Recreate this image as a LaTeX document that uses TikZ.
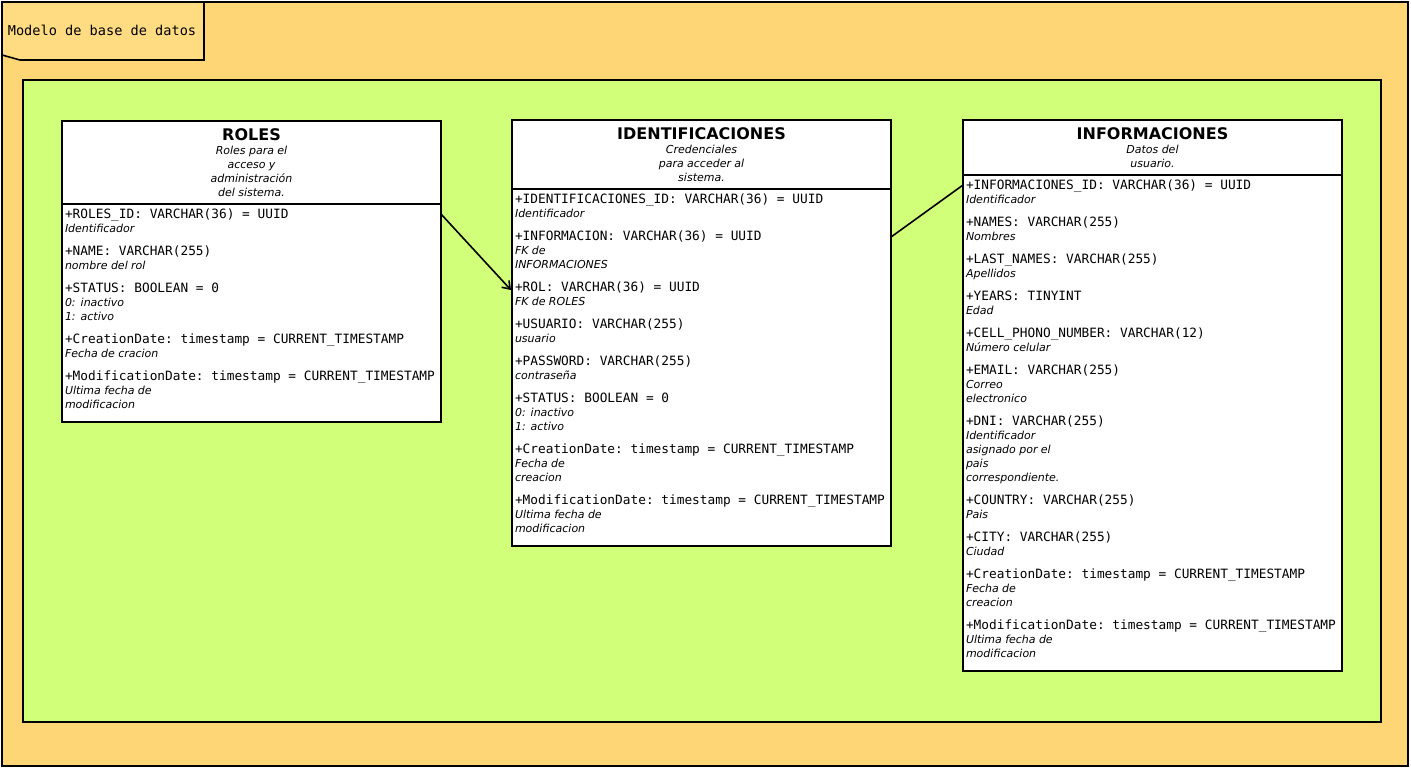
\documentclass[tikz,border=0pt]{standalone}
\usepackage{fontspec}
\setmainfont{DejaVu Sans}
\setmonofont{DejaVu Sans Mono}
\usetikzlibrary{arrows.meta,positioning,calc}

\definecolor{pkgorange}{RGB}{255,214,117}
\definecolor{tabfill}{RGB}{255,220,130}
\definecolor{pkggreen}{RGB}{209,255,122}

\setlength{\parindent}{0pt}
\setlength{\parskip}{0pt}

\newcommand{\fld}[2]{{\fontsize{12.8}{15}\ttfamily\spaceskip=0pt\xspaceskip=0pt #1\par}{\fontsize{11}{14}\itshape #2\par}\vspace{8pt}}
\newcommand{\hdr}[2]{{\fontsize{16}{18}\bfseries #1\par}{\fontsize{11}{14}\itshape #2\par}}

\begin{document}
\begin{tikzpicture}
[x=1pt, y=-1pt, line width=1.6pt, >={Straight Barb[length=7pt,width=10pt]},
head/.style={rectangle, draw, fill=white, anchor=north west, outer sep=0pt, text width=365pt, inner xsep=7pt, inner ysep=7.5pt, align=center},
body/.style={rectangle, draw, fill=white, outer sep=0pt, text width=373pt, inner xsep=3pt, inner ysep=5pt, align=left},
link/.style={draw, line width=1.6pt}]

\useasboundingbox (0,0) rectangle (1411,768);

% package frame
\draw[fill=pkgorange] (2,2) rectangle (1408,766);
\draw[fill=tabfill] (2,2) -- (204,2) -- (204,60) -- (20,60) -- (2,55) -- cycle;
\node[font=\fontsize{13.6}{16}\ttfamily] (pkgname) at (102,30) {Modelo de base de datos};
\draw[fill=pkggreen] (23,80) rectangle (1381,722);

% ROLES
\node[head] (rolesHead) at (62,121) {\hdr{ROLES}{Roles para el\\acceso y\\administración\\del sistema.}};
\node[body, below=0pt of rolesHead] (rolesBody) {%
\fld{+ROLES\_ID: VARCHAR(36) = UUID}{Identificador}
\fld{+NAME: VARCHAR(255)}{nombre del rol}
\fld{+STATUS: BOOLEAN = 0}{0: inactivo\\1: activo}
\fld{+CreationDate: timestamp = CURRENT\_TIMESTAMP}{Fecha de cracion}
\fld{+ModificationDate: timestamp = CURRENT\_TIMESTAMP}{Ultima fecha de\\modificacion}
\vspace{1pt}};

% IDENTIFICACIONES
\node[head] (identHead) at (512,120) {\hdr{IDENTIFICACIONES}{Credenciales\\para acceder al\\sistema.}};
\node[body, below=0pt of identHead] (identBody) {%
\fld{+IDENTIFICACIONES\_ID: VARCHAR(36) = UUID}{Identificador}
\fld{+INFORMACION: VARCHAR(36) = UUID}{FK de\\INFORMACIONES}
\fld{+ROL: VARCHAR(36) = UUID}{FK de ROLES}
\fld{+USUARIO: VARCHAR(255)}{usuario}
\fld{+PASSWORD: VARCHAR(255)}{contraseña}
\fld{+STATUS: BOOLEAN = 0}{0: inactivo\\1: activo}
\fld{+CreationDate: timestamp = CURRENT\_TIMESTAMP}{Fecha de\\creacion}
\fld{+ModificationDate: timestamp = CURRENT\_TIMESTAMP}{Ultima fecha de\\modificacion}
\vspace{1pt}};

% INFORMACIONES
\node[head] (infoHead) at (963,120) {\hdr{INFORMACIONES}{Datos del\\usuario.}};
\node[body, below=0pt of infoHead] (infoBody) {%
\fld{+INFORMACIONES\_ID: VARCHAR(36) = UUID}{Identificador}
\fld{+NAMES: VARCHAR(255)}{Nombres}
\fld{+LAST\_NAMES: VARCHAR(255)}{Apellidos}
\fld{+YEARS: TINYINT}{Edad}
\fld{+CELL\_PHONO\_NUMBER: VARCHAR(12)}{Número celular}
\fld{+EMAIL: VARCHAR(255)}{Correo\\electronico}
\fld{+DNI: VARCHAR(255)}{Identificador\\asignado por el\\pais\\correspondiente.}
\fld{+COUNTRY: VARCHAR(255)}{Pais}
\fld{+CITY: VARCHAR(255)}{Ciudad}
\fld{+CreationDate: timestamp = CURRENT\_TIMESTAMP}{Fecha de\\creacion}
\fld{+ModificationDate: timestamp = CURRENT\_TIMESTAMP}{Ultima fecha de\\modificacion}
\vspace{1pt}};

% relations
\draw[link,->] ($(rolesBody.north east)+(0,10)$) -- ($(identBody.north west)+(-1,101)$);
\draw[link] ($(identBody.north east)+(0,48)$) -- ($(infoBody.north west)+(0,10)$);

\end{tikzpicture}
\end{document}
